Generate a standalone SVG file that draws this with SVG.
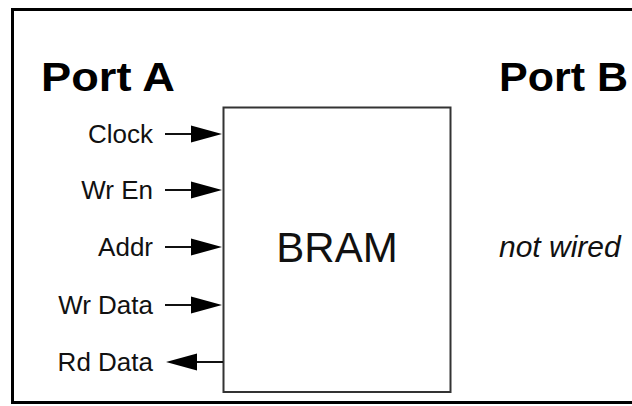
<svg xmlns="http://www.w3.org/2000/svg" width="632" height="406" viewBox="0 0 632 406">
  <style>
    .title { font-family: "Liberation Sans", Arial, sans-serif; font-weight: bold; font-size: 41px; fill: #000; }
    .sig { font-family: "Liberation Sans", Arial, sans-serif; font-size: 26px; fill: #111; text-anchor: end; }
    .wire { stroke: #111; stroke-width: 2; fill: none; }
    .head { fill: #000; }
  </style>
  <rect width="632" height="406" fill="#fff"/>
  <!-- frame, open on the right -->
  <path d="M 634 9.5 H 12.5 V 402.5 H 634" fill="none" stroke="#000" stroke-width="3"/>

  <text class="title" x="41" y="91" textLength="134" lengthAdjust="spacingAndGlyphs">Port A</text>
  <text class="title" x="499" y="91" textLength="129" lengthAdjust="spacingAndGlyphs">Port B</text>

  <g id="bram">
    <rect x="223.5" y="107.5" width="227" height="284.5" fill="#fff" stroke="#333" stroke-width="2"/>
    <text x="337" y="262" font-family="Liberation Sans, Arial, sans-serif" font-size="42" text-anchor="middle" fill="#111">BRAM</text>
  </g>

  <g id="port-b-note">
    <text x="499" y="257" font-family="Liberation Sans, Arial, sans-serif" font-size="30" font-style="italic" fill="#111">not wired</text>
  </g>

  <g id="signals">
    <g id="clock"><text class="sig" x="153" y="143">Clock</text></g>
    <g id="wr-en"><text class="sig" x="153" y="199">Wr En</text></g>
    <g id="addr"><text class="sig" x="153" y="256">Addr</text></g>
    <g id="wr-data"><text class="sig" x="153" y="314">Wr Data</text></g>
    <g id="rd-data"><text class="sig" x="153" y="371">Rd Data</text></g>
  </g>

  <g id="connectors">
    <!-- inputs into the block -->
    <line class="wire" x1="165" y1="134" x2="200" y2="134"/>
    <polygon class="head" points="191,125.5 222,134 191,142.5"/>
    <line class="wire" x1="165" y1="190" x2="200" y2="190"/>
    <polygon class="head" points="191,181.5 222,190 191,198.5"/>
    <line class="wire" x1="165" y1="247" x2="200" y2="247"/>
    <polygon class="head" points="191,238.5 222,247 191,255.5"/>
    <line class="wire" x1="165" y1="305" x2="200" y2="305"/>
    <polygon class="head" points="191,296.5 222,305 191,313.5"/>
    <!-- read data out of the block -->
    <line class="wire" x1="190" y1="362" x2="223" y2="362"/>
    <polygon class="head" points="197,353.5 166,362 197,370.5"/>
  </g>
</svg>
